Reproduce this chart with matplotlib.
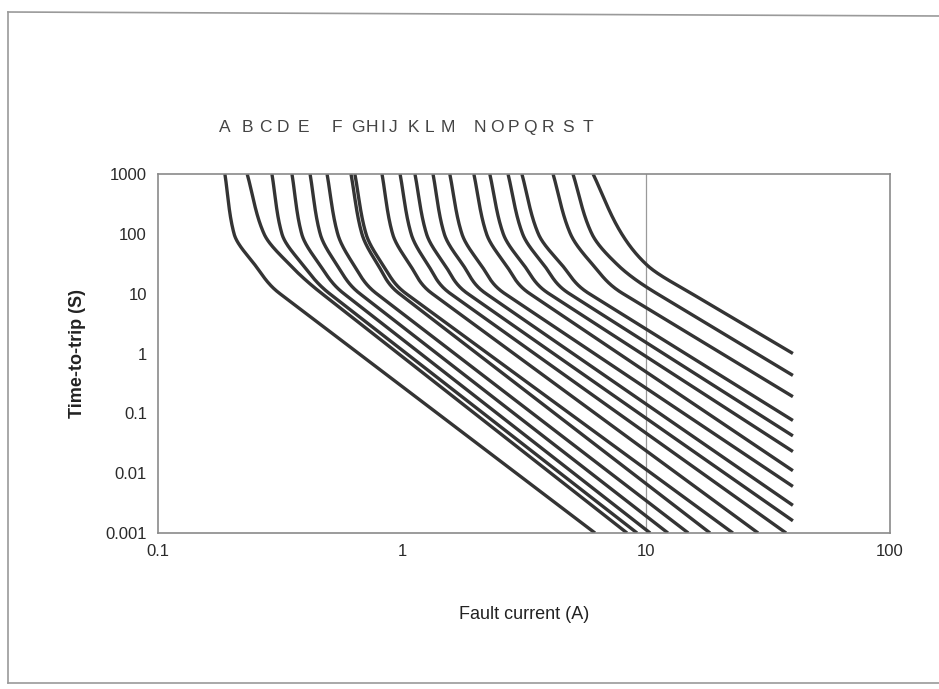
import numpy as np
import matplotlib
matplotlib.use("Agg")
import matplotlib.pyplot as plt
from matplotlib import font_manager
from matplotlib.transforms import blended_transform_factory
from matplotlib.lines import Line2D

def pick_font(cands):
    for c in cands:
        try:
            font_manager.findfont(c, fallback_to_default=False)
            return c
        except Exception:
            pass
    return "DejaVu Sans"

FONT = pick_font(["Liberation Sans Narrow", "Liberation Sans", "DejaVu Sans"])
plt.rcParams["font.family"] = [FONT, "DejaVu Sans"]

# ---------------- data ----------------
letters = list("ABCDEFGHIJKLMNOPQRST")

t_head = [1000, 100, 30, 10]

I_t1000 = [0.188, 0.232, 0.293, 0.354, 0.420, 0.493, 0.618, 0.641, 0.828, 0.982,
           1.13, 1.34, 1.57, 1.97, 2.29, 2.72, 3.10, 4.16, 5.02, 6.07]
I_t100 = [0.205, 0.272, 0.322, 0.388, 0.462, 0.545, 0.685, 0.712, 0.915, 1.09,
          1.26, 1.49, 1.76, 2.22, 2.60, 3.12, 3.62, 4.90, 6.00, 7.95]
I_t30 = [0.250, 0.348, 0.393, 0.461, 0.542, 0.635, 0.798, 0.836, 1.08, 1.28,
         1.50, 1.78, 2.11, 2.67, 3.16, 3.82, 4.53, 6.07, 7.67, 10.1]
I_t10 = [0.316, 0.470, 0.505, 0.578, 0.672, 0.787, 0.975, 1.04, 1.33, 1.58,
         1.86, 2.21, 2.64, 3.34, 4.00, 4.85, 5.85, 8.05, 11.1, 15.4]

I_end = [6.18, 8.36, 9.19, 10.4, 12.3, 14.9, 18.3, 22.7, 28.8, 37.5,
         40, 40, 40, 40, 40, 40, 40, 40, 40, 40]
t_end = [0.001, 0.001, 0.001, 0.001, 0.001, 0.001, 0.001, 0.001, 0.001, 0.001,
         0.0016, 0.0029, 0.0060, 0.011, 0.023, 0.042, 0.076, 0.19, 0.43, 1.0]

label_I = [0.188, 0.232, 0.2745, 0.325, 0.393, 0.542, 0.661, 0.753, 0.836, 0.918,
           1.11, 1.30, 1.54, 2.09, 2.45, 2.85, 3.35, 3.97, 4.79, 5.78]

x_ticks = [0.1, 1, 10, 100]
x_ticklabels = ["0.1", "1", "10", "100"]
y_ticks = [0.001, 0.01, 0.1, 1, 10, 100, 1000]
y_ticklabels = ["0.001", "0.01", "0.1", "1", "10", "100", "1000"]


def hermite_curve(xk, yk, xs):
    """Smooth head through the points, straight last segment (drawing only)."""
    xk = np.asarray(xk, float)
    yk = np.asarray(yk, float)
    h = np.diff(xk)
    d = np.diff(yk) / h
    n = len(xk)
    m = np.zeros(n)
    for k in range(1, n - 1):
        if d[k - 1] * d[k] > 0:
            w1 = 2 * h[k] + h[k - 1]
            w2 = h[k] + 2 * h[k - 1]
            m[k] = (w1 + w2) / (w1 / d[k - 1] + w2 / d[k])
    m[0] = d[0]
    m[n - 2] = d[-1]
    m[n - 1] = d[-1]
    out = np.empty_like(xs)
    idx = np.clip(np.searchsorted(xk, xs) - 1, 0, n - 2)
    for j, x in enumerate(xs):
        k = idx[j]
        s = (x - xk[k]) / h[k]
        h00 = 2 * s**3 - 3 * s**2 + 1
        h10 = s**3 - 2 * s**2 + s
        h01 = -2 * s**3 + 3 * s**2
        h11 = s**3 - s**2
        out[j] = (h00 * yk[k] + h10 * h[k] * m[k]
                  + h01 * yk[k + 1] + h11 * h[k] * m[k + 1])
    return out

# ---------------- figure ----------------
W, H = 939, 689
fig = plt.figure(figsize=(W / 100, H / 100), dpi=100)
fig.patch.set_facecolor("white")

L, R, T, B = 158, 890, 174, 533
ax = fig.add_axes([L / W, 1 - B / H, (R - L) / W, (B - T) / H])
ax.set_xscale("log")
ax.set_yscale("log")
ax.set_xlim(0.1, 100)
ax.set_ylim(0.001, 1000)

line_color = "#343434"
for i in range(len(letters)):
    I = np.array([I_t1000[i], I_t100[i], I_t30[i], I_t10[i], I_end[i]])
    t = np.array(list(t_head) + [t_end[i]], float)
    u = -np.log10(t)
    uu = np.linspace(u[0], u[-1], 400)
    vv = hermite_curve(u, np.log10(I), uu)
    ax.plot(10 ** vv, 10 ** (-uu), color=line_color, lw=2.4,
            solid_capstyle="butt", solid_joinstyle="round")

ax.axvline(10, color="#9a9a9a", lw=0.9, zorder=0)

ax.set_xticks(x_ticks)
ax.set_xticklabels(x_ticklabels)
ax.set_yticks(y_ticks)
ax.set_yticklabels(y_ticklabels)
ax.minorticks_off()
ax.tick_params(axis="both", length=0, labelsize=12, colors="#2a2a2a")
ax.tick_params(axis="x", pad=8)
ax.tick_params(axis="y", pad=8)
for s in ax.spines.values():
    s.set_color("#8a8a8a")
    s.set_linewidth(1.2)

ax.set_xlabel("Fault current (A)", fontsize=13, labelpad=34, color="#222222")
ax.set_ylabel("Time-to-trip (S)", fontsize=13, fontweight="bold",
              labelpad=14, color="#222222")

trans = blended_transform_factory(ax.transData, ax.transAxes)
for i, name in enumerate(letters):
    ax.text(label_I[i], 1.13, name, transform=trans, ha="center", va="center",
            fontsize=12.5, color="#444444")

for (x0, y0, x1, y1) in [(8, 12, 8, 683), (8, 12, 939, 16), (8, 683, 939, 683)]:
    fig.lines.append(Line2D([x0 / W, x1 / W], [1 - y0 / H, 1 - y1 / H],
                            transform=fig.transFigure, color="#9a9a9a", lw=1.2))

fig.savefig("out.png", dpi=100, facecolor="white")
